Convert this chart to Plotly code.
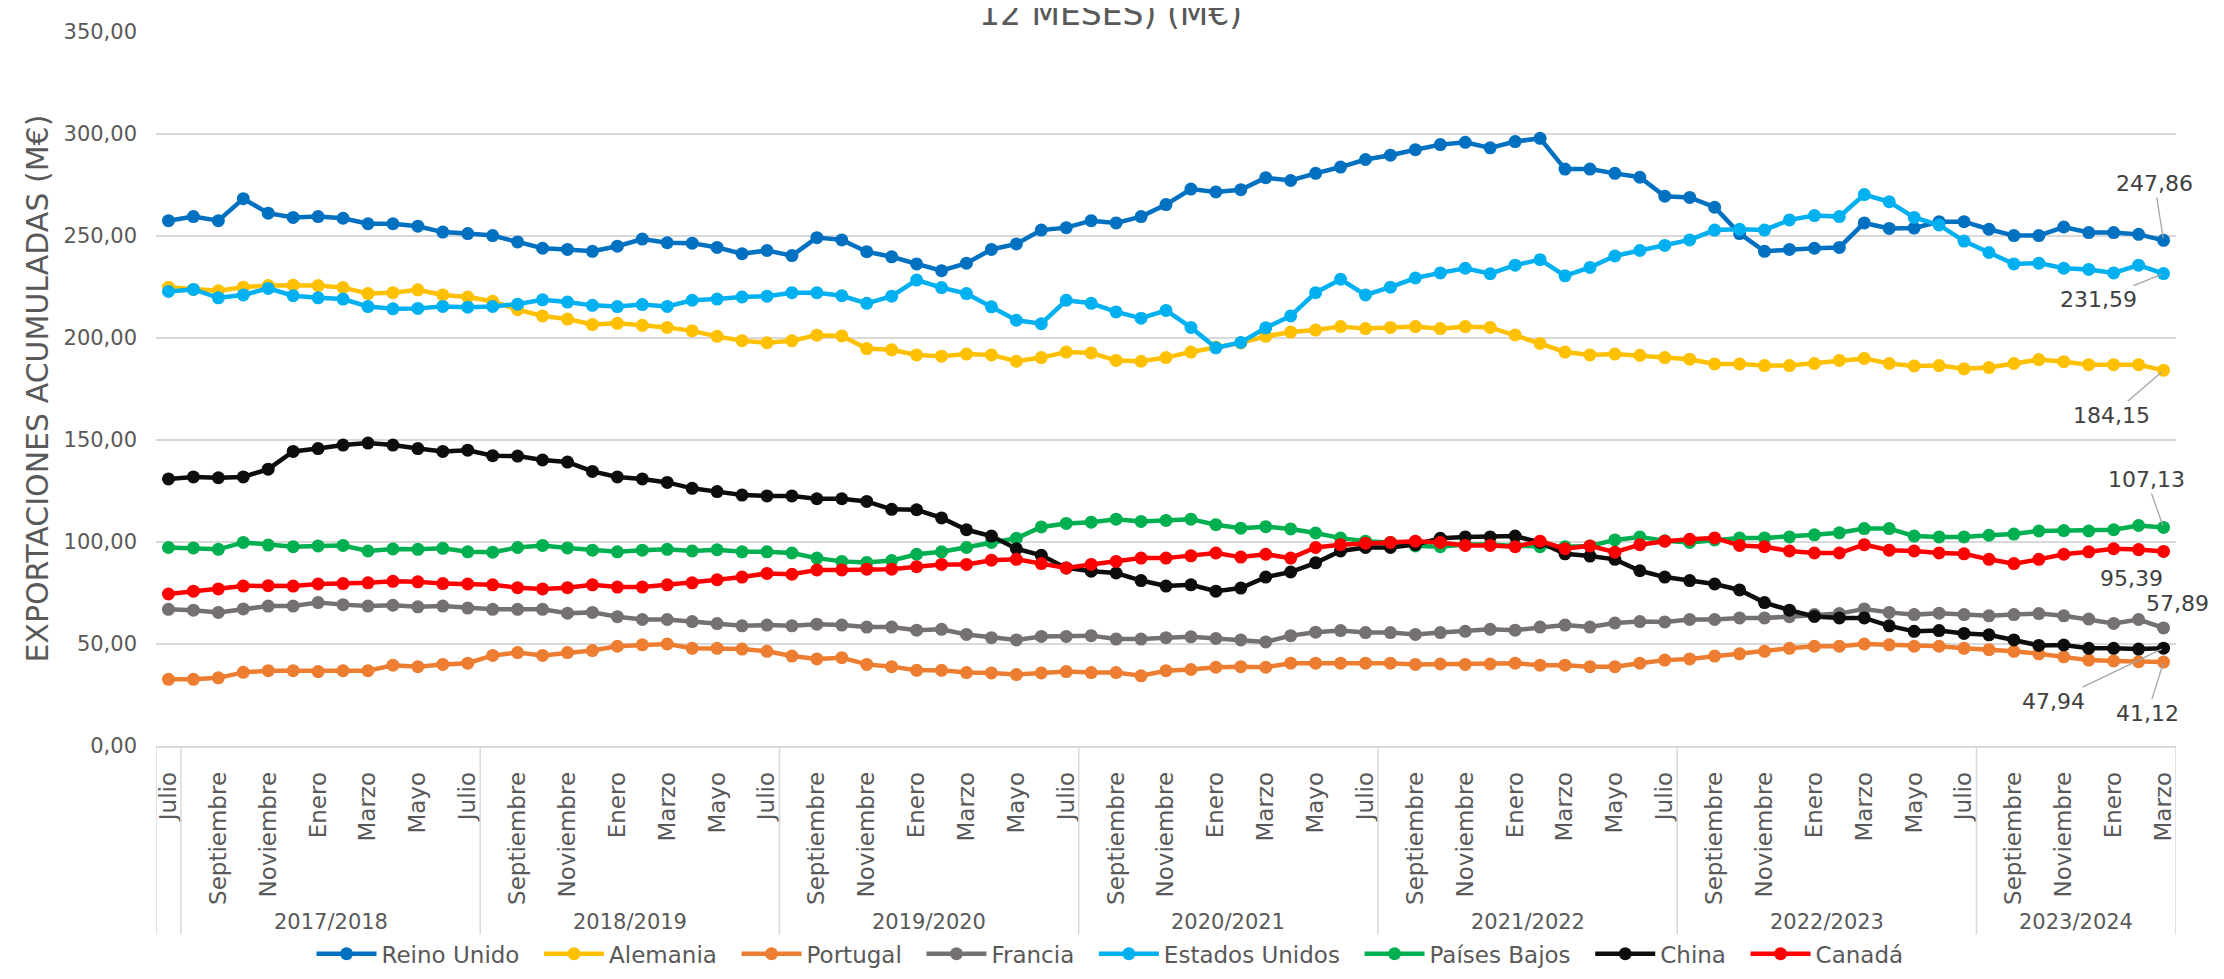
import plotly.graph_objects as go

# ---------------- data ----------------
CAMPANAS = ["", "2017/2018", "2018/2019", "2019/2020", "2020/2021", "2021/2022", "2022/2023", "2023/2024"]
MESES_CAMPANA = ["Agosto", "Septiembre", "Octubre", "Noviembre", "Diciembre", "Enero",
                 "Febrero", "Marzo", "Abril", "Mayo", "Junio", "Julio"]
MESES_POR_CAMPANA = [["Julio"]] + [MESES_CAMPANA] * 6 + [MESES_CAMPANA[:8]]

reino_unido = [257.5, 259.5, 257.5, 268.3, 261.2, 259.1, 259.5, 258.7, 256.0, 256.0, 254.8, 251.9, 251.2, 250.2, 247.1, 244.0, 243.4, 242.5, 245.0, 248.5, 246.7, 246.5,
               244.4, 241.3, 242.9, 240.4, 249.2, 248.1, 242.3, 239.8, 236.3, 233.0, 236.7, 243.4, 246.1, 252.9, 254.1, 257.5, 256.4, 259.5, 265.4, 273.0, 271.6, 272.7,
               278.6, 277.2, 280.7, 283.8, 287.5, 289.6, 292.3, 294.8, 295.9, 293.2, 296.3, 297.9, 282.8, 282.8, 280.7, 278.8, 269.5, 268.9, 264.1, 251.2, 242.5,
               243.4, 244.0, 244.4, 256.4, 253.7, 253.9, 257.0, 257.0, 253.3, 250.2, 250.2, 254.4, 251.7, 251.7, 250.8, 247.86]
alemania = [224.9, 223.8, 223.2, 224.9, 225.7, 225.9, 225.7, 224.7, 221.8, 222.2, 223.6, 221.1, 220.1, 218.0, 213.9, 210.8, 209.3, 206.6, 207.2, 206.2, 205.2, 203.5,
            200.8, 198.7, 197.7, 198.7, 201.4, 201.0, 194.8, 194.2, 191.7, 191.1, 192.1, 191.7, 188.6, 190.4, 193.1, 192.7, 189.0, 188.6, 190.4, 193.1, 195.6, 197.6,
            200.8, 202.9, 203.9, 205.6, 204.6, 205.2, 205.6, 204.6, 205.6, 205.2, 201.5, 197.3, 193.1, 191.7, 192.1, 191.5, 190.4, 189.6, 187.3, 187.3, 186.5,
            186.5, 187.5, 189.0, 190.0, 187.5, 186.3, 186.5, 184.9, 185.5, 187.5, 189.4, 188.4, 186.9, 186.9, 186.9, 184.15]
portugal = [32.7, 32.7, 33.4, 36.1, 36.9, 36.9, 36.5, 36.9, 36.9, 39.6, 38.9, 40.0, 40.6, 44.4, 45.8, 44.4, 45.8, 46.8, 48.9, 49.6, 50.0, 47.9,
            47.9, 47.5, 46.4, 44.1, 42.7, 43.3, 40.0, 38.9, 37.1, 37.1, 36.0, 35.8, 35.0, 35.8, 36.5, 36.0, 36.0, 34.4, 36.9, 37.5, 38.6, 38.9,
            38.6, 40.6, 40.6, 40.6, 40.6, 40.6, 40.0, 40.2, 40.0, 40.2, 40.6, 39.6, 39.6, 38.9, 38.9, 40.6, 42.1, 42.7, 44.1, 45.2, 46.4,
            47.9, 48.9, 48.9, 50.0, 49.6, 48.9, 48.9, 47.9, 47.2, 46.4, 45.2, 43.7, 42.1, 41.7, 41.3, 41.12]
francia = [67.0, 66.6, 65.5, 67.2, 68.6, 68.6, 70.3, 69.3, 68.6, 69.0, 68.2, 68.6, 67.6, 67.0, 67.0, 67.0, 65.1, 65.5, 63.4, 62.0, 62.0, 61.0,
           60.0, 58.9, 59.3, 58.9, 59.7, 59.3, 58.3, 58.3, 56.8, 57.2, 54.7, 53.1, 52.0, 53.7, 53.7, 54.1, 52.4, 52.4, 53.1, 53.5, 52.7, 52.0,
           51.0, 54.1, 55.8, 56.6, 55.6, 55.6, 54.7, 55.6, 56.2, 57.2, 56.8, 58.3, 59.3, 58.3, 60.3, 61.0, 60.8, 62.0, 62.0, 62.8, 62.8,
           63.4, 64.4, 64.9, 67.2, 65.5, 64.4, 65.1, 64.4, 63.8, 64.4, 64.9, 63.8, 62.2, 60.1, 62.0, 57.89]
estados_unidos = [222.8, 223.8, 219.7, 221.1, 224.3, 220.7, 219.7, 219.1, 215.4, 214.3, 214.5, 215.5, 215.1, 215.5, 216.6, 218.7, 217.6, 216.0, 215.4, 216.4, 215.5, 218.5,
                  219.1, 220.1, 220.5, 222.2, 222.2, 220.7, 217.0, 220.5, 228.4, 224.7, 221.8, 215.3, 208.7, 207.0, 218.5, 217.0, 212.8, 209.7, 213.5, 205.2, 195.2, 197.8,
                  205.0, 210.8, 222.2, 228.8, 221.1, 224.9, 229.4, 231.9, 234.2, 231.5, 235.7, 238.4, 230.5, 234.6, 240.2, 242.9, 245.4, 248.1, 252.9, 253.3, 252.9,
                  257.9, 260.0, 259.5, 270.3, 266.8, 259.1, 255.4, 247.5, 241.9, 236.3, 236.7, 234.2, 233.6, 231.9, 235.7, 231.59]
paises_bajos = [97.3, 97.1, 96.4, 99.8, 98.5, 97.7, 98.1, 98.3, 95.6, 96.6, 96.4, 96.9, 95.2, 95.0, 97.3, 98.3, 97.1, 96.0, 95.2, 96.0, 96.4, 95.6,
                96.2, 95.2, 95.2, 94.6, 92.1, 90.5, 90.0, 90.9, 94.0, 95.2, 97.3, 99.8, 101.8, 107.4, 109.1, 109.7, 111.2, 110.1, 110.6, 111.2, 108.5, 106.8,
                107.5, 106.4, 104.4, 101.9, 100.4, 99.8, 98.1, 97.7, 98.8, 98.8, 98.1, 97.7, 97.7, 98.1, 101.0, 102.5, 100.6, 99.8, 101.0, 102.0, 102.0,
                102.5, 103.5, 104.5, 106.6, 106.6, 102.9, 102.5, 102.5, 103.3, 103.9, 105.4, 105.6, 105.4, 106.0, 108.1, 107.13]
china = [130.9, 131.9, 131.5, 131.9, 135.7, 144.4, 145.8, 147.5, 148.5, 147.5, 145.8, 144.4, 145.0, 142.3, 142.1, 140.2, 139.2, 134.6, 131.9, 130.9, 129.2, 126.3,
         124.7, 123.0, 122.6, 122.6, 121.2, 121.2, 119.9, 116.0, 115.8, 111.8, 106.0, 102.9, 96.7, 93.5, 87.3, 85.7, 84.8, 81.1, 78.4, 79.0, 75.9, 77.4,
         82.8, 85.3, 89.8, 95.6, 97.3, 97.3, 98.7, 101.8, 102.5, 102.5, 102.9, 99.8, 94.2, 93.1, 91.5, 85.9, 82.8, 81.1, 79.4, 76.5, 70.3,
         66.6, 63.5, 62.8, 62.8, 58.9, 56.2, 56.6, 55.2, 54.5, 52.0, 49.3, 49.5, 47.9, 47.9, 47.5, 47.94]
canada = [74.5, 75.9, 77.0, 78.4, 78.6, 78.4, 79.4, 79.6, 80.0, 80.7, 80.5, 79.6, 79.4, 79.0, 77.6, 77.0, 77.6, 79.0, 77.9, 77.9, 79.0, 80.0,
          81.5, 82.8, 84.6, 84.2, 86.3, 86.3, 86.7, 86.7, 87.9, 89.0, 89.0, 91.1, 91.5, 89.4, 87.3, 89.0, 90.5, 92.1, 92.1, 93.2, 94.6, 92.6,
          94.0, 92.1, 97.3, 98.7, 99.4, 99.8, 100.4, 99.8, 98.3, 98.3, 97.7, 100.4, 96.7, 98.1, 95.0, 98.7, 100.4, 101.3, 102.0, 98.3, 97.7,
          95.6, 94.6, 94.6, 98.7, 96.0, 95.6, 94.6, 94.2, 91.5, 89.4, 91.5, 94.0, 95.2, 96.7, 96.3, 95.39]

SERIES = [
    ("Reino Unido", reino_unido, "#0070C0"),
    ("Alemania", alemania, "#FFC000"),
    ("Portugal", portugal, "#ED7D31"),
    ("Francia", francia, "#767171"),
    ("Estados Unidos", estados_unidos, "#00B0F0"),
    ("Países Bajos", paises_bajos, "#00B050"),
    ("China", china, "#0D0D0D"),
    ("Canadá", canada, "#FF0000"),
]

# label offsets (px) for the final-value labels: (ax, ay, leader line)
LABEL_OFFSETS = {
    "Reino Unido": (-9, -57, True),
    "Estados Unidos": (-65, 26, True),
    "Alemania": (-52, 45, True),
    "Países Bajos": (-17, -48, True),
    "Canadá": (-32, 27, False),
    "Francia": (14, -24, False),
    "China": (-110, 53, True),
    "Portugal": (-16, 51, True),
}

# ---------------- build ----------------
meses = [m for grupo in MESES_POR_CAMPANA for m in grupo]
x = list(range(len(meses)))

FONT = "DejaVu Sans"
GREY = "#595959"
PAD = "\u00a0\u00a0"  # extra spacing after each legend entry

fig = go.Figure()
for name, vals, color in SERIES:
    fig.add_trace(go.Scatter(
        x=x, y=vals, name=name + PAD, mode="lines+markers",
        line=dict(color=color, width=4.5),
        marker=dict(color=color, size=13),
        hovertemplate=name + ": %{y:.2f}<extra></extra>",
    ))

annotations = []
shapes = []

# group labels and separators
start = 0
bounds = [-0.5]
for camp, grupo in zip(CAMPANAS, MESES_POR_CAMPANA):
    end = start + len(grupo) - 1
    if camp:
        annotations.append(dict(x=(start + end) / 2, y=-0.246, xref="x", yref="paper",
                                text=camp, showarrow=False, xanchor="center", yanchor="middle",
                                font=dict(family=FONT, size=21, color=GREY)))
    bounds.append(end + 0.5)
    start = end + 1
for b in bounds:
    shapes.append(dict(type="line", xref="x", yref="paper", x0=b, x1=b, y0=0, y1=-0.264,
                       line=dict(color="#D9D9D9", width=1.5)))

# final value labels
for name, vals, color in SERIES:
    ax, ay, arrow = LABEL_OFFSETS[name]
    txt = f"{vals[-1]:.2f}".replace(".", ",")
    if arrow:
        annotations.append(dict(x=x[-1], y=vals[-1], xref="x", yref="y", text=txt,
                                showarrow=True, arrowhead=0, arrowwidth=1.3, arrowcolor="#A6A6A6",
                                ax=ax, ay=ay, standoff=2,
                                font=dict(family=FONT, size=22, color="#404040")))
    else:
        annotations.append(dict(x=x[-1], y=vals[-1], xref="x", yref="y", text=txt,
                                showarrow=False, xshift=ax, yshift=-ay,
                                font=dict(family=FONT, size=22, color="#404040")))

# y-axis title and (cut) chart title
annotations.append(dict(x=-0.0591, y=0.5, xref="paper", yref="paper",
                        text="EXPORTACIONES ACUMULADAS (M€)", textangle=-90, showarrow=False,
                        xanchor="center", yanchor="middle",
                        font=dict(family=FONT, size=30, color=GREY)))
annotations.append(dict(x=0.4723, y=0.996, xref="paper", yref="paper",
                        text="12 MESES) (M€)", showarrow=False,
                        xanchor="center", yanchor="bottom",
                        font=dict(family=FONT, size=33, color=GREY)))

fig.update_layout(
    width=2224, height=979,
    margin=dict(l=148, r=56, t=17, b=227),
    paper_bgcolor="white", plot_bgcolor="white",
    separators=",.",
    font=dict(family=FONT, color=GREY),
    showlegend=True,
    legend=dict(orientation="h", x=0.476, xanchor="center", y=-0.291, yanchor="middle",
                font=dict(family=FONT, size=23, color=GREY), itemwidth=60,
                traceorder="normal", bgcolor="rgba(0,0,0,0)"),
    annotations=annotations,
    shapes=shapes,
)
fig.update_xaxes(range=[-0.5, len(meses) - 0.5], tickmode="array",
                 tickvals=x[::2], ticktext=meses[::2], tickangle=-90,
                 ticks="", ticklen=0, ticklabelstandoff=15, showgrid=False, zeroline=False,
                 showline=True, linecolor="#D9D9D9", linewidth=1.5,
                 tickfont=dict(family=FONT, size=23, color=GREY))
fig.update_yaxes(range=[0, 350], dtick=50, tickformat=".2f",
                 showgrid=True, gridcolor="#D9D9D9", gridwidth=1.5, zeroline=False,
                 showline=False, ticks="", ticklen=0, ticklabelstandoff=18,
                 tickfont=dict(family=FONT, size=21, color=GREY))

fig.write_html("out.html")
